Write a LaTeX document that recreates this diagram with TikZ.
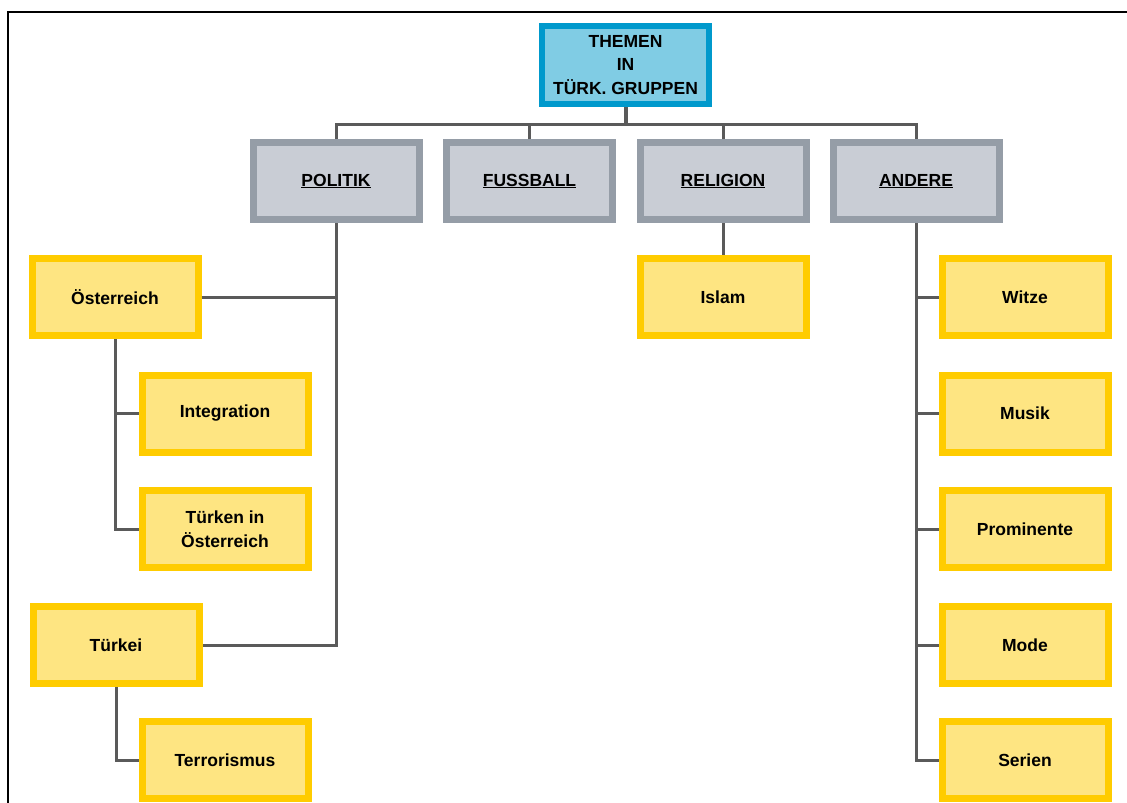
\documentclass[tikz,border=0pt]{standalone}
\usepackage{fontspec}
\setmainfont{Liberation Sans}
\definecolor{rootline}{HTML}{0099CC}
\definecolor{rootfill}{HTML}{80CCE4}
\definecolor{catline}{HTML}{959DA7}
\definecolor{catfill}{HTML}{C9CDD5}
\definecolor{subline}{HTML}{FFCC00}
\definecolor{subfill}{HTML}{FEE582}
\definecolor{linkgray}{HTML}{5A5A5A}
\tikzset{
    boxtext/.style={font=\fontsize{17.5}{23.5}\selectfont\bfseries, align=center, inner sep=0pt},
    rootbox/.style={boxtext, draw=rootline, fill=rootfill, line width=6pt,
        minimum width=167pt, minimum height=78pt},
    catbox/.style={boxtext, draw=catline, fill=catfill, line width=7pt,
        minimum width=166pt, minimum height=77pt},
    subbox/.style={boxtext, draw=subline, fill=subfill, line width=7pt,
        minimum width=166pt, minimum height=77pt},
    link/.style={draw=linkgray, line width=3pt}
}
\begin{document}
\begin{tikzpicture}[x=1pt, y=-1pt]
    \useasboundingbox (0,0) rectangle (1127,803);

    % Frame (top and left edge only)
    \draw[line width=2pt] (1127,12) -- (8,12) -- (8,803);

    % Root
    \node[rootbox] (root) at (625.5,65) {THEMEN\\IN\\TÜRK. GRUPPEN};

    % Categories
    \node[catbox] (pol) at (336,181)   {\underline{POLITIK}};
    \node[catbox] (fus) at (529.5,181) {\underline{FUSSBALL}};
    \node[catbox] (rel) at (723,181)   {\underline{RELIGION}};
    \node[catbox] (and) at (916,181)   {\underline{ANDERE}};

    % Politik
    \node[subbox] (oes) at (115,297)   {Österreich};
    \node[subbox] (int) at (225,413.5) {Integration};
    \node[subbox] (tin) at (225,529)   {Türken in\\Österreich};
    \node[subbox] (tur) at (116,645)   {Türkei};
    \node[subbox] (ter) at (225,760)   {Terrorismus};

    % Religion
    \node[subbox] (isl) at (723,297) {Islam};

    % Andere
    \node[subbox] (wit) at (1025,297)   {Witze};
    \node[subbox] (mus) at (1025,413.5) {Musik};
    \node[subbox] (pro) at (1025,529)   {Prominente};
    \node[subbox] (mod) at (1025,645)   {Mode};
    \node[subbox] (ser) at (1025,760)   {Serien};

    % Bus below the root
    \coordinate (bus) at (0,124);
    \draw[link, line width=4pt] (root.south) -- (root.south |- bus);
    \draw[link] (pol.north) -- (pol.north |- bus) -- (and.north |- bus) -- (and.north);
    \draw[link] (fus.north) -- (fus.north |- bus);
    \draw[link] (rel.north) -- (rel.north |- bus);

    % Politik branches
    \draw[link] (pol.south) |- (tur.east);
    \draw[link] (oes.east) -- (oes.east -| pol.south);
    \draw[link] (oes.south) |- (tin.west);
    \draw[link] (oes.south |- int.west) -- (int.west);
    \draw[link] (tur.south) |- (ter.west);

    % Religion branch
    \draw[link] (rel.south) -- (isl.north);

    % Andere branches
    \draw[link] (and.south) |- (ser.west);
    \foreach \n in {wit,mus,pro,mod}
        \draw[link] (and.south |- \n.west) -- (\n.west);

\end{tikzpicture}
\end{document}
